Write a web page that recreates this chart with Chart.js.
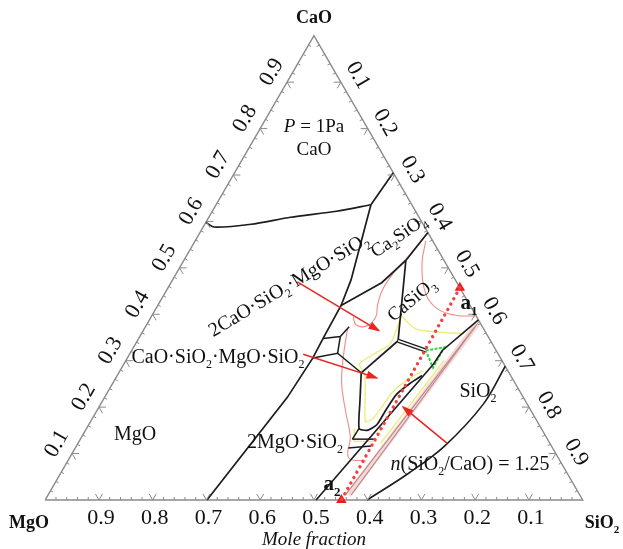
<!DOCTYPE html>
<html><head><meta charset="utf-8">
<script src="https://cdn.jsdelivr.net/npm/chart.js@4/dist/chart.umd.min.js"></script>
<style>html,body{margin:0;padding:0;background:#fff;overflow:hidden}canvas{display:block}</style>
</head><body>
<canvas id="c" width="623" height="549"></canvas>
<script>
// All compositions are [CaO, SiO2] mole fractions (MgO = 1 - CaO - SiO2)
const frame = [[0,0],[0,1],[1,0],[0,0]];
const majorTicks = [0.1,0.2,0.3,0.4,0.5,0.6,0.7,0.8,0.9];
const bottomLabels = ['0.9','0.8','0.7','0.6','0.5','0.4','0.3','0.2','0.1']; // MgO, left to right
const leftLabels = ['0.1','0.2','0.3','0.4','0.5','0.6','0.7','0.8','0.9'];   // CaO, bottom to top
const rightLabels = ['0.1','0.2','0.3','0.4','0.5','0.6','0.7','0.8','0.9'];  // SiO2, top to bottom

// black phase boundaries
const lineA = [[0.598,0.000],[0.588,0.020],[0.594,0.086],[0.609,0.152],[0.622,0.231],[0.636,0.288]];
const lineB = [[0.636,0.288],[0.705,0.295]];
const lineC = [[0.636,0.288],[0.474,0.332],[0.419,0.341],[0.348,0.343],[0.306,0.345],[0.221,0.340],[0,0.301]];
const lineD = [[0.419,0.341],[0.468,0.392],[0.516,0.413],[0.576,0.424]];
const lineE = [[0.516,0.413],[0.432,0.448],[0.343,0.485]];
const lineF = [[0.343,0.485],[0.322,0.547]];
const lineG = [[0.343,0.485],[0.274,0.451]];
const lineJ1 = [[0.306,0.345],[0.316,0.386],[0.274,0.451]];
const lineJ2 = [[0.316,0.386],[0.352,0.373]];
const lineJ3 = [[0.348,0.343],[0.352,0.373],[0.373,0.379]];
const lineH = [[0.274,0.451],[0.211,0.480],[0.154,0.507],[0.150,0.524],[0.162,0.536],[0.196,0.537],[0.228,0.540],[0.251,0.553],[0.268,0.567]];
const lineK0 = [[0.154,0.507],[0.131,0.506]];
const lineK1 = [[0.131,0.506],[0.131,0.546]];
const lineK2 = [[0.112,0.508],[0.116,0.548]];
const lineL1 = [[0,0.504],[0.293,0.576],[0.322,0.578],[0.388,0.612]];
const liqSiO2 = [[0.288,0.712],[0.207,0.712],[0.116,0.685],[0.057,0.647],[0,0.599]];
const bandP1 = [[0.385,0.615],[0.011,0.564]];
const bandP2 = [[0.373,0.613],[0.011,0.553]];
// thin coloured isolines
const red1 = [[0.558,0.429],[0.506,0.448],[0.443,0.487],[0.411,0.525],[0.398,0.564],[0.396,0.601]];
const red2 = [[0.575,0.424],[0.525,0.413],[0.491,0.404],[0.453,0.401],[0.421,0.408],[0.394,0.418],[0.375,0.411],[0.377,0.390],[0.394,0.376]];
const red3 = [[0.369,0.378],[0.312,0.399],[0.253,0.425],[0.190,0.464],[0.137,0.499],[0.091,0.519],[0.084,0.555]];
const yel1 = [[0.400,0.460],[0.369,0.504],[0.362,0.549],[0.358,0.600]];
const yel2 = [[0.394,0.465],[0.337,0.474],[0.314,0.454],[0.293,0.438],[0.268,0.461],[0.169,0.511],[0.175,0.522],[0.200,0.526],[0.232,0.530],[0.259,0.544],[0.278,0.564]];
const yel3 = [[0.154,0.498],[0.126,0.512],[0.126,0.554]];
const yel4 = [[0.301,0.592],[0.122,0.563]];
const green1 = [[0.322,0.547],[0.329,0.578],[0.285,0.579],[0.322,0.547]];
// composition path a1 -> a2, n(SiO2/CaO) = 1.25
const pathA = [[0.457,0.543],[0,0.551]];
// red pointer arrows
const arrow1 = [[0.470,0.234],[0.365,0.438]];
const arrow2 = [[0.314,0.323],[0.263,0.485]];
const arrow3 = [[0.122,0.687],[0.200,0.566]];

const S3 = Math.sqrt(3)/2;
const T = ([c,s]) => ({x: s + c/2, y: c*S3});
function ds(arr, color, width, extra){
  return Object.assign({type:'scatter', data: arr.map(T), borderColor: color, backgroundColor: color,
    borderWidth: width, showLine: true, pointRadius: 0, fill: false, tension: 0, order: 5}, extra||{});
}
const BLK = '#1c1c1c';
const datasets = [
  ds(frame, '#8a8a8a', 1.4, {order: 9}),
  ds(red1, '#f38a8a', 1.1, {tension: 0.4, order: 8}),
  ds(red2, '#f38a8a', 1.1, {tension: 0.4, order: 8}),
  ds(red3, '#f38a8a', 1.1, {tension: 0.4, order: 8}),
  ds(yel1, '#f0ea78', 1.3, {tension: 0.3, order: 8}),
  ds(yel2, '#f0ea78', 1.3, {tension: 0.2, order: 8}),
  ds(yel3, '#f0ea78', 1.3, {order: 8}),
  ds(yel4, '#f0ea78', 1.3, {order: 8}),
  ds(bandP1.map((p,i)=>[(p[0]+bandP2[i][0])/2,(p[1]+bandP2[i][1])/2]), '#f6d8d8', 6, {order: 7}),
  ds(bandP1, '#b98a8a', 1.1, {order: 6}),
  ds(bandP2, '#b98a8a', 1.1, {order: 6}),
  ds(green1, '#2fd83a', 2, {borderDash:[3,1.5], order: 4}),
  ds(lineA, BLK, 1.7, {tension: 0.25, order: 3}),
  ds(lineB, BLK, 1.7, {order: 3}),
  ds(lineC, BLK, 1.7, {order: 3}),
  ds(lineD, BLK, 1.7, {order: 3}),
  ds(lineE, BLK, 1.7, {order: 3}),
  ds(lineF, BLK, 4.2, {order: 3}),
  ds(lineF, '#ffffff', 1.4, {order: 2}),
  ds(lineG, BLK, 1.7, {order: 3}),
  ds(lineJ1, BLK, 1.5, {order: 3}),
  ds(lineJ2, BLK, 1.5, {order: 3}),
  ds(lineJ3, BLK, 1.5, {order: 3}),
  ds(lineH, BLK, 1.7, {tension: 0.2, order: 3}),
  ds(lineK0, BLK, 1.5, {order: 3}),
  ds(lineK1, BLK, 1.5, {order: 3}),
  ds(lineK2, BLK, 1.5, {order: 3}),
  ds(lineL1, BLK, 1.6, {order: 3}),
  ds(liqSiO2, BLK, 1.6, {tension: 0.35, order: 3}),
  ds(pathA, '#f2423f', 3.4, {borderDash:[0.01,6.2], borderCapStyle:'round', order: 1}),
  ds(pathA, '#f01818', 0, {showLine:false, pointRadius: 6, pointStyle:'triangle', order: 1}),
  ds(arrow1, '#e8251f', 1.5, {order: 1, arrow: true}),
  ds(arrow2, '#e8251f', 1.5, {order: 1, arrow: true}),
  ds(arrow3, '#e8251f', 1.5, {order: 1, arrow: true}),
];

const FONT = '"Liberation Serif", "Times New Roman", serif';
function drawRich(ctx, segs, x, y, size, rot){
  const fontFor = st => (st.includes('i')?'italic ':'') + (st.includes('b')?'bold ':'') +
     (st.includes('s') ? Math.round(size*0.62) : size) + 'px ' + FONT;
  ctx.save(); ctx.translate(x, y); ctx.rotate((rot||0)*Math.PI/180);
  let w = 0;
  segs.forEach(s => { ctx.font = fontFor(s[1]); w += ctx.measureText(s[0]).width; });
  let cx = -w/2;
  ctx.fillStyle = '#111'; ctx.textBaseline = 'alphabetic'; ctx.textAlign = 'left';
  segs.forEach(s => { ctx.font = fontFor(s[1]); const dy = s[1].includes('s') ? size*0.25 : 0;
    ctx.fillText(s[0], cx, size*0.35 + dy); cx += ctx.measureText(s[0]).width; });
  ctx.restore();
}
const texts = [
  {t:[['CaO','b']], x:314, y:17, s:18},
  {t:[['MgO','b']], x:29, y:522, s:18},
  {t:[['SiO','b'],['2','bs']], x:602, y:522, s:18},
  {t:[['P','i'],[' = 1Pa','']], x:314, y:125, s:19},
  {t:[['CaO','']], x:314, y:148, s:19},
  {t:[['Ca','' ],['2','s'],['SiO',''],['4','s']], x:398, y:235, s:19, r:-34},
  {t:[['2CaO·SiO',''],['2','s'],['·MgO·SiO',''],['2','s']], x:288, y:284, s:20, r:-31},
  {t:[['CaSiO',''],['3','s']], x:411, y:299, s:19, r:-40},
  {t:[['CaO·SiO',''],['2','s'],['·MgO·SiO',''],['2','s']], x:218, y:356, s:20},
  {t:[['MgO','']], x:135, y:433, s:20},
  {t:[['2MgO·SiO',''],['2','s']], x:295, y:441, s:20},
  {t:[['SiO',''],['2','s']], x:478, y:390, s:20},
  {t:[['n','i'],['(SiO',''],['2','s'],['/CaO) = 1.25','']], x:470, y:463, s:20},
  {t:[['a','b'],['1','bs']], x:469, y:302, s:21},
  {t:[['a','b'],['2','bs']], x:332, y:483, s:21},
  {t:[['Mole fraction','i']], x:314, y:538, s:19},
];

const overlay = {
  id: 'overlay',
  beforeDraw(chart){ const c = chart.ctx; c.save(); c.fillStyle = '#fff'; c.fillRect(0,0,chart.width,chart.height); c.restore(); },
  afterDatasetsDraw(chart){
    const ctx = chart.ctx, xs = chart.scales.x, ys = chart.scales.y;
    const P = (c,s) => ({x: xs.getPixelForValue(s + c/2), y: ys.getPixelForValue(c*S3)});
    // ticks
    ctx.save(); ctx.strokeStyle = '#8a8a8a'; ctx.lineWidth = 1;
    const seg = (p, dx, dy, L) => { ctx.beginPath(); ctx.moveTo(p.x, p.y); ctx.lineTo(p.x + dx*L, p.y + dy*L); ctx.stroke(); };
    for (let k = 1; k < 50; k++){
      const v = k/50, major = (k % 5 === 0);
      const pb = P(0, v), pl = P(v, 0), pr = P(1-v, v);
      if (major){
        seg(pb, -0.5, -S3, 7); seg(pb, 0.5, -S3, 7);
        seg(pl, 1, 0, 7); seg(pl, 0.5, S3, 7);
        seg(pr, -1, 0, 7); seg(pr, -0.5, S3, 7);
      } else {
        seg(pb, 0, -1, 3); seg(pl, S3, 0.5, 3); seg(pr, -S3, 0.5, 3);
      }
    }
    ctx.restore();
    // tick labels
    majorTicks.forEach((v, i) => {
      const pb = P(0, v);
      drawRich(ctx, [[bottomLabels[i], '']], pb.x + 2, pb.y + 16, 22, 0);
      const pl = P(v, 0);
      drawRich(ctx, [[leftLabels[i], '']], pl.x - S3*20 + 0.5*1, pl.y - 0.5*20 - S3*1, 22, -60);
      const pr = P(1 - v, v);
      drawRich(ctx, [[rightLabels[i], '']], pr.x + S3*20 + 0.5*(2 + 8*v), pr.y - 0.5*20 + S3*(2 + 8*v), 22, 60);
    });
    // arrow heads
    chart.data.datasets.forEach((d, i) => {
      if (!d.arrow) return;
      const pts = chart.getDatasetMeta(i).data; const a = pts[pts.length-2], b = pts[pts.length-1];
      const ang = Math.atan2(b.y - a.y, b.x - a.x);
      ctx.save(); ctx.translate(b.x, b.y); ctx.rotate(ang); ctx.fillStyle = d.borderColor;
      ctx.beginPath(); ctx.moveTo(2, 0); ctx.lineTo(-10, -4); ctx.lineTo(-10, 4); ctx.closePath(); ctx.fill(); ctx.restore();
    });
    // text labels
    texts.forEach(o => drawRich(ctx, o.t, o.x, o.y, o.s, o.r || 0));
  }
};

new Chart(document.getElementById('c'), {
  type: 'scatter',
  data: { datasets },
  options: {
    responsive: false, animation: false, events: [],
    layout: { padding: 0 },
    plugins: { legend: { display: false }, tooltip: { enabled: false } },
    scales: {
      x: { type: 'linear', min: -40/548, max: 583/548, display: false },
      y: { type: 'linear', min: -44/548, max: 505/548, display: false }
    }
  },
  plugins: [overlay]
});
</script>
</body></html>
